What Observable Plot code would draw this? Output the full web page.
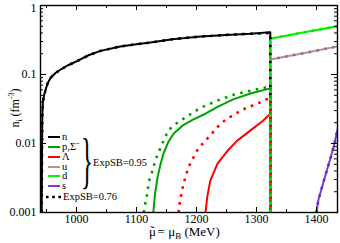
<!DOCTYPE html>
<html><head><meta charset="utf-8">
<script src="https://cdn.jsdelivr.net/npm/d3@7"></script>
<script src="https://cdn.jsdelivr.net/npm/@observablehq/plot@0.6"></script>
<style>body{margin:0;background:#fff}</style>
</head><body><div id="chart"></div>
<script>
// ---- data (mu in MeV, density in fm^-3) ----
const nMu = [942, 942.5, 943, 944, 946, 948, 952, 957, 965, 975, 985, 1000, 1020, 1040, 1073, 1100, 1123, 1160, 1207, 1250, 1290, 1323, 1323];
const nVal = [0.001, 0.008, 0.025, 0.04, 0.05, 0.058, 0.075, 0.09, 0.105, 0.12, 0.135, 0.155, 0.19, 0.22, 0.255, 0.275, 0.29, 0.325, 0.355, 0.375, 0.39, 0.41, 0.001];
const nDotMu = [942, 942.5, 943, 944, 946, 948, 952, 957, 965, 975, 985, 1000, 1020, 1040, 1073, 1100, 1123, 1160, 1207, 1250, 1290, 1323, 1323];
const nDotVal = [0.001, 0.008, 0.025, 0.04, 0.05, 0.058, 0.075, 0.09, 0.105, 0.12, 0.135, 0.155, 0.19, 0.22, 0.255, 0.275, 0.29, 0.325, 0.355, 0.375, 0.39, 0.40, 0.001];

const pMu = [1128, 1131, 1135, 1140, 1145, 1153, 1162, 1178, 1195, 1215, 1235, 1262, 1290, 1323, 1323];
const pVal = [0.001, 0.0019, 0.0032, 0.005, 0.0072, 0.0105, 0.014, 0.0185, 0.0223, 0.027, 0.034, 0.044, 0.053, 0.063, 0.001];
const pDotMu = [1112, 1115, 1118, 1120, 1127, 1132, 1143, 1153, 1168, 1182, 1207, 1235, 1262, 1293, 1323, 1323];
const pDotVal = [0.001, 0.0014, 0.0019, 0.0027, 0.0041, 0.0059, 0.01, 0.0155, 0.02, 0.024, 0.033, 0.042, 0.051, 0.059, 0.067, 0.001];

const lamMu = [1215, 1218, 1223, 1235, 1252, 1268, 1290, 1310, 1323, 1323];
const lamVal = [0.001, 0.0017, 0.0029, 0.0051, 0.0079, 0.011, 0.0155, 0.021, 0.027, 0.001];
const lamDotMu = [1170, 1172, 1175, 1178, 1182, 1187, 1195, 1203, 1215, 1227, 1237, 1248, 1262, 1277, 1288, 1302, 1317, 1323, 1323];
const lamDotVal = [0.001, 0.00135, 0.0019, 0.0025, 0.0034, 0.0046, 0.0063, 0.0085, 0.011, 0.0144, 0.018, 0.022, 0.026, 0.031, 0.034, 0.038, 0.044, 0.046, 0.001];

const uMu = [1323, 1323, 1380, 1435];
const uVal = [0.001, 0.165, 0.205, 0.255];
const dMu = [1323, 1323, 1380, 1435];
const dVal = [0.001, 0.33, 0.41, 0.5];
const sMu = [1400, 1403, 1407, 1415, 1423, 1430, 1435];
const sVal = [0.001, 0.0015, 0.002, 0.0035, 0.006, 0.01, 0.016];

const legendLabels = ["n", "p,Σ⁻", "Λ", "u", "d", "s"];
const legendColors = ["#000000", "#00a000", "#ff0000", "#bc8f8f", "#00ee00", "#7a3bd1"];
const xMajor = [1000, 1100, 1200, 1300, 1400];
const xMinor = [950, 1050, 1150, 1250, 1350];
const yMajor = [0.001, 0.01, 0.1, 1];
const yMinor = [0.001, 0.01, 0.1].flatMap(b => [2,3,4,5,6,7,8,9].map(k => +(k*b).toPrecision(3)));

const pts = (mu, v) => mu.map((x, i) => ({x, y: v[i]}));
const [cN, cP, cL, cU, cD, cS] = legendColors;

const W = 340, H = 243, mL = 40, mR = 3, mT = 5, mB = 31;
const fw = W - mL - mR, fh = H - mT - mB;

const solid = (data, color) => Plot.line(data, {x: "x", y: "y", stroke: color, strokeWidth: 2, clip: true});
const dotted = (data, color) => Plot.line(data, {x: "x", y: "y", stroke: color, strokeWidth: 2.6, strokeDasharray: "2.6,5.4", strokeLinecap: "butt", clip: true});

const svg = Plot.plot({
  width: W, height: H,
  marginLeft: mL, marginRight: mR, marginTop: mT, marginBottom: mB,
  style: {fontFamily: "'Liberation Serif', serif", fontSize: "12px", background: "#fff", color: "#000"},
  x: {domain: [940, 1435], label: null},
  y: {type: "log", domain: [0.001, 1], label: null},
  marks: [
    solid(pts(nMu, nVal), cN),
    solid(pts(pMu, pVal), cP),
    solid(pts(lamMu, lamVal), cL),
    solid(pts(uMu, uVal), cU),
    solid(pts(dMu, dVal), cD),
    solid(pts(sMu, sVal), cS),
    dotted(pts(nDotMu, nDotVal), cN),
    dotted(pts(pDotMu, pDotVal), cP),
    dotted(pts(lamDotMu, lamDotVal), cL),
    dotted(pts(uMu, uVal), "#a07070"),
    dotted(pts(dMu, dVal), cD),
    dotted(pts(sMu, sVal), "#6a2bc0"),
    // inward ticks
    Plot.ruleX(xMajor, {x: d => d, insetTop: fh - 5, stroke: "#000"}),
    Plot.ruleX(xMajor, {x: d => d, insetBottom: fh - 5, stroke: "#000"}),
    Plot.ruleX(xMinor, {x: d => d, insetTop: fh - 3, stroke: "#000"}),
    Plot.ruleX(xMinor, {x: d => d, insetBottom: fh - 3, stroke: "#000"}),
    Plot.ruleY(yMajor, {y: d => d, insetRight: fw - 6, stroke: "#000"}),
    Plot.ruleY(yMajor, {y: d => d, insetLeft: fw - 6, stroke: "#000"}),
    Plot.ruleY(yMinor, {y: d => d, insetRight: fw - 3, stroke: "#000"}),
    Plot.ruleY(yMinor, {y: d => d, insetLeft: fw - 3, stroke: "#000"}),
    Plot.axisX({ticks: xMajor, tickSize: 0, tickPadding: 2, tickFormat: d => String(d), fontSize: 12}),
    Plot.axisY({ticks: yMajor.slice(0, 3), tickSize: 0, tickPadding: 4, tickFormat: d => String(d), fontSize: 12}),
    Plot.axisY({ticks: yMajor.slice(3), tickSize: 0, tickPadding: 4, dy: 3, tickFormat: d => String(d), fontSize: 12}),
    Plot.frame({stroke: "#000", strokeWidth: 1.4})
  ]
});

const g = d3.select(svg).append("g")
  .attr("font-family", "'Liberation Serif', serif").attr("fill", "#000").attr("text-anchor", "start");

// legend
const legendY = [137, 147, 157, 167, 176, 186];
legendLabels.forEach((lab, i) => {
  g.append("line").attr("x1", 48).attr("x2", 60).attr("y1", legendY[i]).attr("y2", legendY[i])
    .attr("stroke", legendColors[i]).attr("stroke-width", 2);
  g.append("text").attr("x", 62).attr("y", legendY[i]).attr("dy", "0.32em")
    .attr("font-size", 10.5).text(lab);
});
g.append("text").attr("transform", "translate(81,181) scale(0.4,1)")
  .attr("font-size", 62).text("}");
g.append("text").attr("x", 93).attr("y", 163).attr("dy", "0.32em").attr("font-size", 10.5).text("ExpSB=0.95");
g.append("line").attr("x1", 46).attr("x2", 61).attr("y1", 197).attr("y2", 197)
  .attr("stroke", "#000").attr("stroke-width", 2.6).attr("stroke-dasharray", "2.6,3.6");
g.append("text").attr("x", 63).attr("y", 197).attr("dy", "0.32em").attr("font-size", 10.5).text("ExpSB=0.76");

// axis labels
const yl = g.append("text").attr("transform", "translate(19,108) rotate(-90)")
  .attr("text-anchor", "middle").attr("font-size", 12);
yl.append("tspan").text("n");
yl.append("tspan").attr("font-size", 8).attr("dy", 3).text("i");
yl.append("tspan").attr("dy", -3).text(" (fm");
yl.append("tspan").attr("font-size", 8).attr("dy", -5).text("-3");
yl.append("tspan").attr("dy", 5).text(")");

const xl = g.append("text").attr("x", 149).attr("y", 236).attr("font-size", 13);
xl.append("tspan").text("μ");
xl.append("tspan").attr("dx", -6).attr("dy", -1).text("˜");
xl.append("tspan").attr("dx", 0).attr("dy", 1).text(" = μ");
xl.append("tspan").attr("font-size", 9).attr("dy", 3).text("B");
xl.append("tspan").attr("dy", -3).text(" (MeV)");

document.getElementById("chart").appendChild(svg);
</script>
</body></html>
